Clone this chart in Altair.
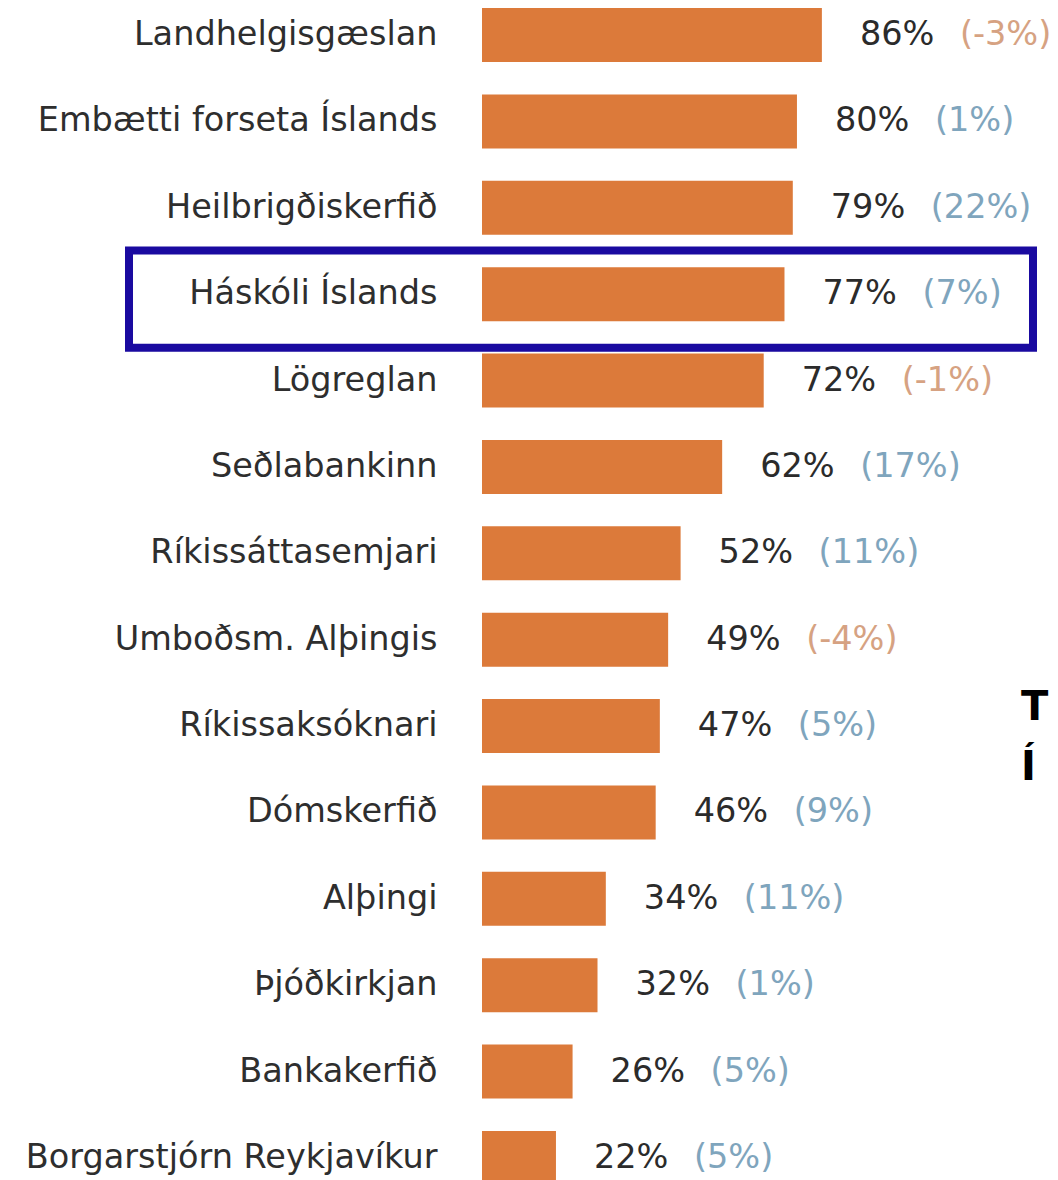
import altair as alt
import pandas as pd

categories = [
    "Landhelgisgæslan", "Embætti forseta Íslands", "Heilbrigðiskerfið",
    "Háskóli Íslands", "Lögreglan", "Seðlabankinn", "Ríkissáttasemjari",
    "Umboðsm. Alþingis", "Ríkissaksóknari", "Dómskerfið", "Alþingi",
    "Þjóðkirkjan", "Bankakerfið", "Borgarstjórn Reykjavíkur",
]
values = [86, 80, 79, 77, 72, 62, 52, 49, 47, 46, 34, 32, 26, 22]
changes = [-3, 1, 22, 7, -1, 17, 11, -4, 5, 9, 11, 1, 5, 5]
highlight = "Háskóli Íslands"
side_text = ["TH", "Í H"]
axis_start = 4.2

df = pd.DataFrame({"cat": categories, "value": values, "change": changes})

FONT = "DejaVu Sans"
FS = 33.5
ORANGE = "#dc7a3a"

y_axis = alt.Axis(domain=False, ticks=False, labelPadding=45, labelFontSize=FS,
                  labelFont=FONT, labelColor="#2e2e2e", labelLimit=0, grid=False)
y_scale = alt.Scale(paddingInner=0.375, paddingOuter=0, range=[0, 1177])
y_enc = alt.Y("cat:N", sort=categories, title=None, scale=y_scale, axis=y_axis)

x_scale = alt.Scale(domain=[axis_start, 140.9], nice=False, zero=False)
x_enc = alt.X("value:Q", scale=x_scale, axis=None)

base = alt.Chart(df)

bars = base.mark_bar(color=ORANGE).encode(
    y=y_enc,
    x=x_enc,
    x2=alt.datum(axis_start),
)

val_text = base.mark_text(
    align="left", baseline="middle", dx=38, font=FONT, fontSize=FS, color="#2b2b2b"
).transform_calculate(lbl="datum.value + '%'").encode(
    y=y_enc,
    x=x_enc,
    text="lbl:N",
)

chg_text = base.mark_text(
    align="left", baseline="middle", dx=138, font=FONT, fontSize=FS
).transform_calculate(lbl="'(' + datum.change + '%)'").encode(
    y=y_enc,
    x=x_enc,
    text="lbl:N",
    color=alt.condition("datum.change < 0", alt.value("#d6a282"), alt.value("#7fa5bd")),
)

box = base.mark_bar(
    filled=False, stroke="#1a0aa0", strokeWidth=8,
    height=alt.RelativeBandSize(band=1.8), yOffset=5,
).transform_filter(alt.datum.cat == highlight).encode(
    y=y_enc,
    x=alt.value(-353),
    x2=alt.value(551),
)

side = alt.Chart(pd.DataFrame({"t": [side_text]})).mark_text(
    align="left", baseline="alphabetic", font="DejaVu Sans", fontWeight="bold",
    fontSize=40, lineHeight=60, color="#000000",
).encode(
    x=alt.value(539),
    y=alt.value(712),
    text="t",
)

chart = alt.layer(bars, val_text, chg_text, box, side).properties(
    width=568, height=1172,
    background="#ffffff",
    autosize=alt.AutoSizeParams(type="none"),
    padding={"left": 474, "top": 0, "right": 0, "bottom": 0},
).configure_view(stroke="transparent", strokeWidth=0)

chart.save("out.html", embed_options={"renderer": "svg", "actions": False})
